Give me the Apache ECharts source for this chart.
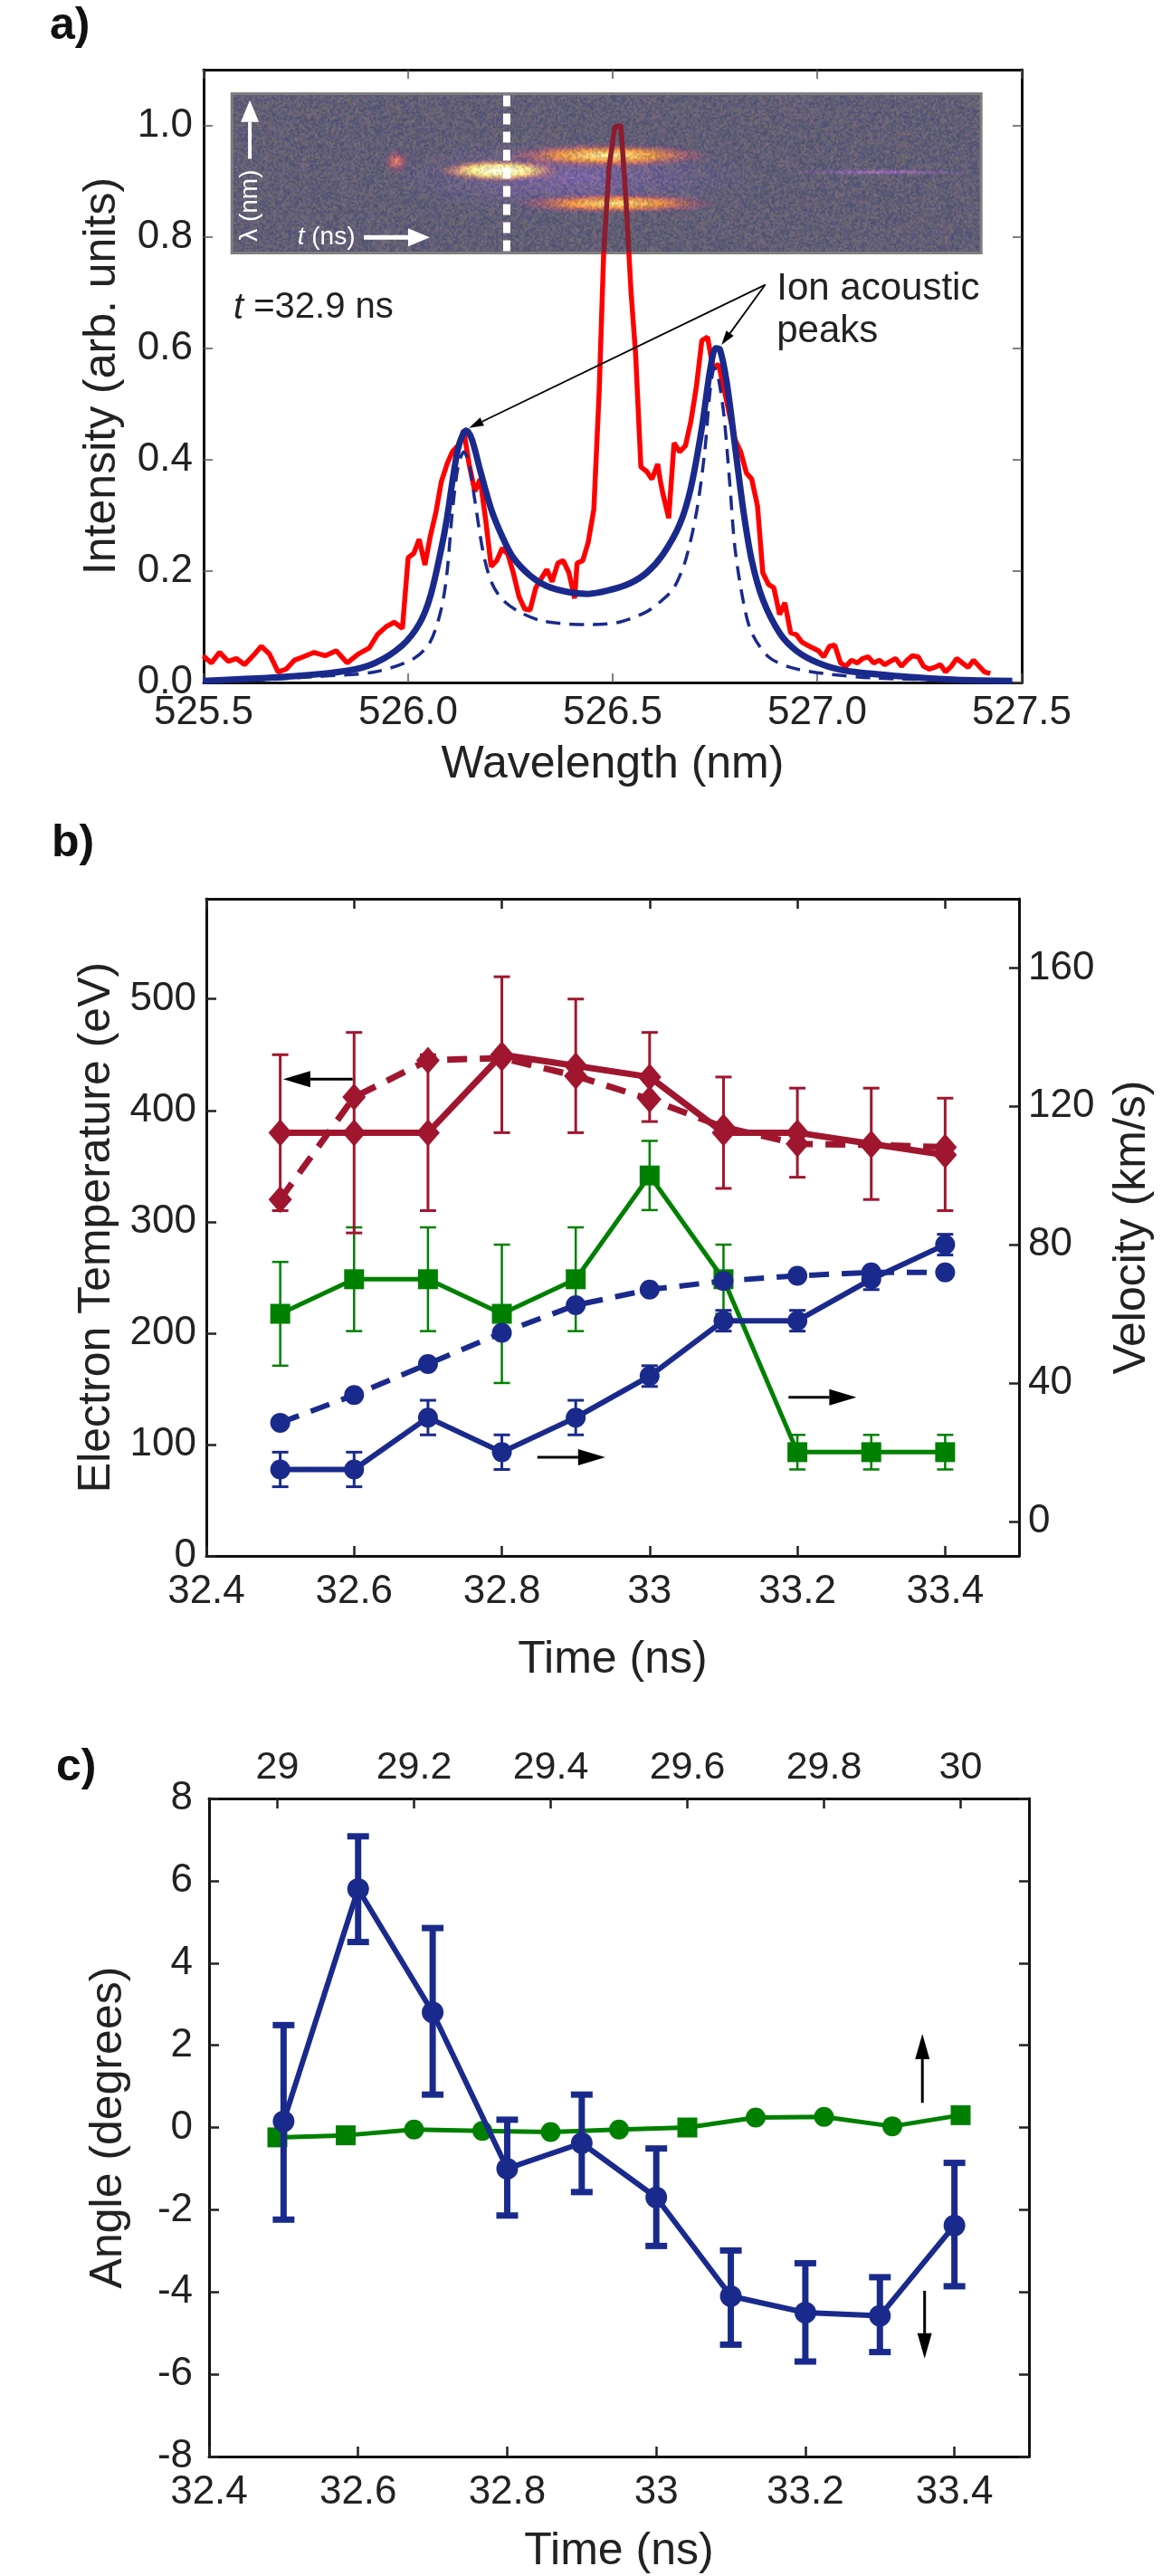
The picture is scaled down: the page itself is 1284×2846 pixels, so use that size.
<!DOCTYPE html>
<html><head><meta charset="utf-8">
<script src="https://cdn.jsdelivr.net/npm/echarts@6/dist/echarts.min.js"></script>
<style>html,body{margin:0;padding:0;background:#fff}#c{width:1284px;height:2846px}</style>
</head><body><div id="c"></div>
<script>
// ================= Panel a data =================
const redWl = [525.499,525.519,525.539,525.560,525.580,525.600,525.621,525.641,525.661,525.682,
525.702,525.722,525.743,525.770,525.797,525.824,525.851,525.878,525.905,525.925,
525.946,525.966,525.986,526.000,526.014,526.027,526.041,526.054,526.068,526.081,
526.095,526.108,526.122,526.136,526.149,526.163,526.176,526.190,526.203,526.217,
526.230,526.244,526.257,526.271,526.285,526.298,526.312,526.325,526.339,526.352,
526.366,526.379,526.393,526.407,526.413,526.427,526.440,526.454,526.467,526.478,
526.491,526.505,526.520,526.533,526.545,526.556,526.569,526.583,526.596,526.610,
526.617,526.623,526.637,526.650,526.664,526.678,526.691,526.705,526.718,526.732,
526.745,526.759,526.772,526.786,526.799,526.813,526.827,526.840,526.854,526.867,
526.881,526.894,526.908,526.921,526.935,526.949,526.962,526.976,526.989,527.003,
527.016,527.030,527.043,527.057,527.070,527.084,527.098,527.111,527.125,527.138,
527.152,527.165,527.179,527.192,527.206,527.220,527.233,527.247,527.260,527.274,
527.287,527.301,527.314,527.328,527.341,527.355,527.369,527.382,527.396,527.409,527.423];
const redI = [0.048,0.035,0.054,0.038,0.043,0.032,0.048,0.065,0.051,0.019,
0.024,0.040,0.046,0.054,0.048,0.057,0.035,0.051,0.062,0.086,
0.100,0.108,0.097,0.224,0.232,0.257,0.211,0.262,0.306,0.360,
0.392,0.414,0.425,0.452,0.392,0.343,0.365,0.289,0.208,0.219,
0.241,0.230,0.197,0.154,0.132,0.130,0.170,0.186,0.203,0.181,
0.214,0.219,0.197,0.151,0.214,0.219,0.251,0.311,0.522,0.770,
0.924,0.997,1.000,0.860,0.700,0.590,0.387,0.379,0.365,0.392,
0.360,0.338,0.295,0.430,0.414,0.425,0.468,0.533,0.614,0.620,
0.565,0.571,0.528,0.479,0.436,0.414,0.376,0.365,0.317,0.197,
0.176,0.170,0.122,0.143,0.089,0.086,0.073,0.067,0.062,0.057,
0.046,0.065,0.067,0.035,0.029,0.040,0.035,0.043,0.046,0.035,
0.040,0.032,0.038,0.043,0.029,0.040,0.048,0.046,0.029,0.024,
0.027,0.032,0.019,0.029,0.043,0.035,0.027,0.040,0.029,0.019,0.016];
const fitWl = [525.499,525.715,525.851,525.919,525.986,526.027,526.054,526.081,526.095,526.108,
526.122,526.136,526.142,526.156,526.176,526.203,526.230,526.257,526.298,526.339,
526.393,526.440,526.488,526.542,526.583,526.623,526.664,526.691,526.718,526.738,
526.752,526.762,526.779,526.799,526.820,526.840,526.867,526.908,526.949,527.003,
527.070,527.206,527.341,527.477];
const fitI = [0.003,0.011,0.021,0.035,0.067,0.105,0.154,0.240,0.295,0.360,
0.420,0.449,0.452,0.436,0.381,0.311,0.262,0.224,0.192,0.173,
0.162,0.159,0.165,0.178,0.197,0.230,0.284,0.349,0.457,0.560,
0.600,0.598,0.538,0.425,0.306,0.219,0.149,0.089,0.057,0.035,
0.021,0.011,0.005,0.003];
const fitDashWl = [525.499,525.648,525.783,525.919,526.014,526.054,526.081,526.095,526.108,526.122,
526.136,526.149,526.163,526.183,526.203,526.230,526.271,526.325,526.393,526.447,
526.515,526.583,526.623,526.650,526.678,526.705,526.725,526.738,526.749,526.759,
526.772,526.786,526.799,526.820,526.840,526.881,526.935,527.016,527.138,527.341,527.477];
const fitDashI = [0.001,0.005,0.011,0.019,0.043,0.073,0.132,0.197,0.306,0.387,
0.414,0.392,0.327,0.235,0.181,0.149,0.127,0.111,0.105,0.104,
0.108,0.127,0.149,0.170,0.219,0.306,0.414,0.522,0.565,0.544,
0.479,0.360,0.241,0.143,0.089,0.046,0.027,0.016,0.008,0.004,0.001];
const wlTicks = [525.5,526.0,526.5,527.0,527.5];
const intensityTicks = [0,0.2,0.4,0.6,0.8,1.0];

// ================= Panel b data =================
const timeB = [32.5,32.6,32.7,32.8,32.9,33.0,33.1,33.2,33.3,33.4];
const tempSolid   = [380,380,380,450,440,430,380,380,370,360];
const tempSolidLo = [310,290,310,380,380,390,330,340,320,310];
const tempSolidHi = [450,470,450,520,500,470,430,420,420,411];
const tempDashed  = [320,412,445,447,431,410,385,370,369,367];
const velGreen   = [60,70,70,60,70,100,70,20,20,20];
const velGreenLo = [45,55,55,40,55,90,60,15,15,15];
const velGreenHi = [75,85,85,80,85,110,80,25,25,25];
const velBlue   = [15,15,30,20,30,42,58,58,70,80];
const velBlueLo = [10,10,25,15,25,39,55,55,67,77];
const velBlueHi = [20,20,35,25,35,45,61,61,72,83];
const velBlueDashed = [28.5,36.5,45.5,54.5,62.5,67,69.5,71,72,72];
const timeTicks = [32.4,32.6,32.8,33.0,33.2,33.4];
const tempTicks = [0,100,200,300,400,500];
const velTicks = [0,40,80,120,160];

// ================= Panel c data =================
const timeC = [32.5,32.6,32.7,32.8,32.9,33.0,33.1,33.2,33.3,33.4];
const angleBlue   = [0.15,5.8,2.8,-1.0,-0.38,-1.7,-4.1,-4.5,-4.58,-2.38];
const angleBlueLo = [-2.24,4.51,0.8,-2.14,-1.57,-2.88,-5.28,-5.69,-5.46,-3.86];
const angleBlueHi = [2.49,7.08,4.85,0.19,0.8,-0.51,-2.99,-3.3,-3.64,-0.86];
const timeTop = [29.0,29.1,29.2,29.3,29.4,29.5,29.6,29.7,29.8,29.9,30.0];
const angleGreen = [-0.24,-0.19,-0.05,-0.08,-0.11,-0.05,0.0,0.24,0.26,0.03,0.30];
const angleGreenMarker = ['rect','rect','circle','circle','circle','circle','rect','circle','circle','circle','rect'];
const angleTicks = [-8,-6,-4,-2,0,2,4,6,8];
const topTicks = [29,29.2,29.4,29.6,29.8,30];

// ================= styling =================
const FONT = 'Liberation Sans, Arial, Helvetica, sans-serif';
const TXT = '#222';
const RED = '#ff0000', NAVY = '#1a2a8c', MAROON = '#a0162f', GREEN = '#008000';

const chart = echarts.init(document.getElementById('c'), null, {renderer:'canvas'});

function axisCommon(o){
  return Object.assign({
    type:'value', splitLine:{show:false},
    axisLine:{show:true, onZero:false, lineStyle:{color:'#111', width:3}},
    axisTick:{show:true, inside:true, length:11, lineStyle:{color:'#222', width:2.5}},
    axisLabel:{show:true, color:TXT, fontSize:44, fontFamily:FONT},
    nameTextStyle:{color:TXT, fontSize:50, fontFamily:FONT},
    nameLocation:'middle'
  }, o);
}
const fmt1 = v => v.toFixed(1);
const fmtT = v => String(Math.round(v*10)/10);
const pairs = (xs, ys) => xs.map((x,k)=>[x, ys[k]]);

function lineSeries(xs, ys, xi, yi, color, lw, symbol, size, dash, z, smooth){
  const ls = {width:lw, type: dash || 'solid'};
  if (color) ls.color = color;
  return {type:'line', xAxisIndex:xi, yAxisIndex:yi, data:pairs(xs,ys),
    symbol: symbol || 'none', symbolSize:size, showSymbol: !!symbol, smooth: smooth||false,
    lineStyle:ls, itemStyle: color ? {color, borderWidth:0} : {borderWidth:0},
    z: z||3, animation:false, silent:true};
}
function errSeries(xs, lo, hi, xi, yi, color, lw, cap, z){
  return {type:'custom', xAxisIndex:xi, yAxisIndex:yi, z: z||2, silent:true, animation:false,
    data: xs.map((x,k)=>[x, lo[k], hi[k]]), encode:{x:0, y:[1,2]},
    renderItem: function(params, api){
      const a = api.coord([api.value(0), api.value(1)]);
      const b = api.coord([api.value(0), api.value(2)]);
      const st = {stroke:color, lineWidth:lw, fill:null};
      return {type:'group', children:[
        {type:'line', shape:{x1:a[0],y1:a[1],x2:b[0],y2:b[1]}, style:st},
        {type:'line', shape:{x1:a[0]-cap/2,y1:a[1],x2:a[0]+cap/2,y2:a[1]}, style:st},
        {type:'line', shape:{x1:b[0]-cap/2,y1:b[1],x2:b[0]+cap/2,y2:b[1]}, style:st}
      ]};
    }};
}
const thinTick = {show:true, inside:true, length:10, lineStyle:{color:'#555', width:1.5}};
const thickTick = v => ({show:true, inside:true, length:11, lineStyle:{color:'#222', width:2.5}, customValues:v});

const option = {
  backgroundColor:'#fff',
  animation:false,
  grid:[
    {left:225, top:77, width:904, height:677},
    {left:228, top:993, width:904, height:726},
    {left:231, top:1987, width:906, height:727}
  ],
  xAxis:[
    axisCommon({gridIndex:0, position:'bottom', min:525.5, max:527.5,
      axisTick:Object.assign({}, thinTick, {customValues:wlTicks}),
      axisLabel:{color:TXT, fontSize:44, fontFamily:FONT, margin:12, formatter:fmt1, customValues:wlTicks},
      name:'Wavelength (nm)', nameGap:66}),
    axisCommon({gridIndex:0, position:'top', min:525.5, max:527.5,
      axisTick:Object.assign({}, thinTick, {customValues:wlTicks}), axisLabel:{show:false}}),
    axisCommon({gridIndex:1, position:'bottom', min:32.4, max:33.5, axisTick:thickTick(timeTicks),
      axisLabel:{color:TXT, fontSize:44, fontFamily:FONT, margin:18, formatter:fmtT, customValues:timeTicks},
      name:'Time (ns)', nameGap:90}),
    axisCommon({gridIndex:1, position:'top', min:32.4, max:33.5, axisTick:thickTick(timeTicks), axisLabel:{show:false}}),
    axisCommon({gridIndex:2, position:'bottom', min:32.4, max:33.5, axisTick:thickTick(timeTicks),
      axisLabel:{color:TXT, fontSize:44, fontFamily:FONT, margin:18, formatter:fmtT, customValues:timeTicks},
      name:'Time (ns)', nameGap:80}),
    axisCommon({gridIndex:2, position:'top', min:28.9, max:30.1, axisTick:thickTick(topTicks),
      axisLabel:{color:TXT, fontSize:43, fontFamily:FONT, margin:12, formatter:fmtT, customValues:topTicks}})
  ],
  yAxis:[
    axisCommon({gridIndex:0, position:'left', min:0, max:1.1,
      axisTick:Object.assign({}, thinTick, {customValues:intensityTicks}),
      axisLabel:{color:TXT, fontSize:44, fontFamily:FONT, margin:12, formatter:fmt1, customValues:intensityTicks},
      name:'Intensity (arb. units)', nameGap:87}),
    axisCommon({gridIndex:0, position:'right', min:0, max:1.1,
      axisTick:Object.assign({}, thinTick, {customValues:intensityTicks}), axisLabel:{show:false}}),
    axisCommon({gridIndex:1, position:'left', min:0, max:590, axisTick:thickTick(tempTicks),
      axisLabel:{color:TXT, fontSize:44, fontFamily:FONT, margin:11, customValues:tempTicks},
      name:'Electron Temperature (eV)', nameGap:96}),
    axisCommon({gridIndex:1, position:'right', min:-10, max:180, axisTick:thickTick(velTicks),
      axisLabel:{color:TXT, fontSize:44, fontFamily:FONT, margin:10, customValues:velTicks},
      name:'Velocity (km/s)', nameGap:100}),
    axisCommon({gridIndex:2, position:'left', min:-8, max:8, axisTick:thickTick(angleTicks),
      axisLabel:{color:TXT, fontSize:44, fontFamily:FONT, margin:18, customValues:angleTicks},
      name:'Angle (degrees)', nameGap:86}),
    axisCommon({gridIndex:2, position:'right', min:-8, max:8, axisTick:thickTick(angleTicks), axisLabel:{show:false}})
  ],
  visualMap:[{type:'piecewise', show:false, seriesIndex:0, dimension:1,
    pieces:[{min:0.771, max:2, color:'#8c1c2e'}, {min:-1, max:0.771, color:RED}]}],
  series:[
    lineSeries(redWl, redI, 0, 0, null, 5.5, null, 0, null, 3),
    lineSeries(fitWl, fitI, 0, 0, NAVY, 7, null, 0, null, 4, 0.3),
    lineSeries(fitDashWl, fitDashI, 0, 0, NAVY, 3.5, null, 0, [16,10], 5, 0.3),
    errSeries(timeB, velGreenLo, velGreenHi, 2, 3, GREEN, 2.5, 18, 2),
    lineSeries(timeB, velGreen, 2, 3, GREEN, 5, 'rect', 22, null, 3),
    errSeries(timeB, velBlueLo, velBlueHi, 2, 3, NAVY, 3, 18, 2),
    lineSeries(timeB, velBlue, 2, 3, NAVY, 6, 'circle', 22, null, 3),
    lineSeries(timeB, velBlueDashed, 2, 3, NAVY, 6, 'circle', 22, [22,14], 3),
    errSeries(timeB, tempSolidLo, tempSolidHi, 2, 2, MAROON, 3, 18, 4),
    lineSeries(timeB, tempDashed, 2, 2, MAROON, 7, 'diamond', [26,30], [22,14], 5),
    lineSeries(timeB, tempSolid, 2, 2, MAROON, 7, 'diamond', [26,30], null, 5),
    lineSeries(timeTop, angleGreen, 5, 4, GREEN, 5, 'circle', 22, null, 3),
    errSeries(timeC, angleBlueLo, angleBlueHi, 4, 4, NAVY, 7, 24, 4),
    lineSeries(timeC, angleBlue, 4, 4, NAVY, 6, 'circle', 24, null, 5)
  ]
};
option.series[11].data = timeTop.map((x,k)=>({value:[x, angleGreen[k]], symbol:angleGreenMarker[k]}));
chart.setOption(option);

// ================= decorations =================
const pa = (x,y) => chart.convertToPixel({xAxisIndex:0, yAxisIndex:0}, [x,y]);
const pb = (x,y) => chart.convertToPixel({xAxisIndex:2, yAxisIndex:2}, [x,y]);
const pc = (x,y) => chart.convertToPixel({xAxisIndex:4, yAxisIndex:4}, [x,y]);

function arrow(p1, p2, o){
  o = Object.assign({w:2, head:14, hw:6, color:'#000', z:20}, o||{});
  const ang = Math.atan2(p2[1]-p1[1], p2[0]-p1[0]);
  const bx = p2[0]-o.head*Math.cos(ang), by = p2[1]-o.head*Math.sin(ang);
  const px = -Math.sin(ang)*o.hw, py = Math.cos(ang)*o.hw;
  return [
    {type:'line', z:o.z, silent:true, shape:{x1:p1[0],y1:p1[1],x2:bx,y2:by}, style:{stroke:o.color, lineWidth:o.w}},
    {type:'polygon', z:o.z, silent:true, shape:{points:[[p2[0],p2[1]],[bx+px,by+py],[bx-px,by-py]]}, style:{fill:o.color}}
  ];
}

const g = [];
try {
// --- inset streak-camera picture (panel a), painted on an offscreen canvas ---
const tl = pa(525.569, 1.057), br = pa(527.400, 0.771);
const W = Math.round(br[0]-tl[0]), H = Math.round(br[1]-tl[1]);
const cv = document.createElement('canvas'); cv.width = W; cv.height = H;
const ctx = cv.getContext('2d');
ctx.fillStyle = '#5e5e72'; ctx.fillRect(0,0,W,H);
const blobs = [
  [526.405, 0.906, 0.46, 0.071, [[0,'rgba(150,110,200,0.55)'],[1,'rgba(110,100,170,0)']]],
  [526.487, 0.946, 0.257, 0.022, [[0,'rgba(255,240,150,1)'],[0.45,'rgba(255,160,60,0.85)'],[1,'rgba(200,60,120,0)']]],
  [526.507, 0.860, 0.25, 0.018, [[0,'rgba(255,235,130,1)'],[0.45,'rgba(255,150,60,0.85)'],[1,'rgba(200,60,120,0)']]],
  [526.223, 0.919, 0.15, 0.02, [[0,'rgba(255,255,235,1)'],[0.5,'rgba(255,230,130,0.95)'],[1,'rgba(240,90,90,0)']]],
  [525.971, 0.935, 0.03, 0.022, [[0,'rgba(255,140,90,0.9)'],[1,'rgba(200,60,120,0)']]],
  [527.157, 0.916, 0.23, 0.006, [[0,'rgba(190,120,200,0.8)'],[1,'rgba(140,100,190,0)']]]
];
blobs.forEach(b=>{
  const c = pa(b[0], b[1]);
  const rx = pa(b[0]+b[2], b[1])[0]-c[0];
  const ry = c[1]-pa(b[0], b[1]+b[3])[1];
  ctx.setTransform(rx/50, 0, 0, ry/50, c[0]-tl[0], c[1]-tl[1]);
  const grd = ctx.createRadialGradient(0,0,0,0,0,50);
  b[4].forEach(s=>grd.addColorStop(s[0], s[1]));
  ctx.fillStyle = grd; ctx.beginPath(); ctx.arc(0,0,50,0,Math.PI*2); ctx.fill();
});
ctx.setTransform(1,0,0,1,0,0);
// deterministic grain
const im = ctx.getImageData(0,0,W,H), d = im.data;
const hash = (x,y) => { const h = Math.sin(x*12.9898 + y*78.233)*43758.5453; return h - Math.floor(h); };
for (let y=0; y<H; y++) for (let x=0; x<W; x++){
  const k = (y*W+x)*4, n = hash(Math.floor(x/2), Math.floor(y/2)), m = hash(x+7, y+3);
  const f = 0.78 + 0.44*n;
  d[k]   = Math.min(255, d[k]*f + (m>0.93?40:0));
  d[k+1] = Math.min(255, d[k+1]*(0.85+0.3*n));
  d[k+2] = Math.min(255, d[k+2]*(0.85+0.35*m));
}
ctx.putImageData(im,0,0);
g.push({type:'image', z:1, silent:true, style:{image:cv, x:tl[0], y:tl[1], width:W, height:H}});
g.push({type:'rect', z:2, silent:true, shape:{x:tl[0], y:tl[1], width:W, height:H},
  style:{fill:null, stroke:'#7e7e7e', lineWidth:3}});
const dl1 = pa(526.241, 1.057), dl2 = pa(526.241, 0.771);
g.push({type:'line', z:2, silent:true, shape:{x1:dl1[0], y1:dl1[1]+2, x2:dl2[0], y2:dl2[1]-2},
  style:{stroke:'#ffffff', lineWidth:8, lineDash:[12,8]}});
g.push(...arrow(pa(525.613, 0.94), pa(525.613, 1.045), {w:4, head:24, hw:10, color:'#fff', z:2}));
g.push(...arrow(pa(525.892, 0.799), pa(526.053, 0.799), {w:5, head:24, hw:10, color:'#fff', z:2}));
{
  const p = pa(525.613, 0.856);
  g.push({type:'text', z:2, silent:true, x:p[0], y:p[1], rotation:Math.PI/2,
    style:{text:'λ (nm)', fill:'#fff', fontSize:28, fontFamily:FONT, align:'center', verticalAlign:'middle'}});
  const q = pa(525.80, 0.799);
  g.push({type:'text', z:2, silent:true, x:q[0], y:q[1],
    style:{text:'{i|t} (ns)', fill:'#fff', fontSize:28, fontFamily:FONT, align:'center', verticalAlign:'middle',
      rich:{i:{fontStyle:'italic', fill:'#fff', fontSize:28, fontFamily:FONT}}}});
}
{
  const s = pa(526.873, 0.714);
  g.push(...arrow(s, pa(526.149, 0.457), {w:1.8, head:16, hw:5}));
  g.push(...arrow(s, pa(526.766, 0.606), {w:1.8, head:16, hw:5}));
  const t1 = pa(526.901, 0.706), t2 = pa(526.901, 0.630);
  g.push({type:'text', z:20, silent:true, x:t1[0], y:t1[1], style:{text:'Ion acoustic', fill:TXT, fontSize:42, fontFamily:FONT, align:'left', verticalAlign:'middle'}});
  g.push({type:'text', z:20, silent:true, x:t2[0], y:t2[1], style:{text:'peaks', fill:TXT, fontSize:42, fontFamily:FONT, align:'left', verticalAlign:'middle'}});
  const t3 = pa(525.573, 0.672);
  g.push({type:'text', z:20, silent:true, x:t3[0], y:t3[1],
    style:{text:'{i|t} =32.9 ns', fill:TXT, fontSize:40, fontFamily:FONT, align:'left', verticalAlign:'middle',
      rich:{i:{fontStyle:'italic', fill:TXT, fontSize:40, fontFamily:FONT}}}});
}
g.push(...arrow(pb(32.598, 428), pb(32.504, 428), {w:3, head:30, hw:9}));
g.push(...arrow(pb(32.848, 88.6), pb(32.94, 88.6), {w:3, head:30, hw:9}));
g.push(...arrow(pb(33.188, 142.5), pb(33.28, 142.5), {w:3, head:30, hw:9}));
g.push(...arrow(pc(33.357, 0.6), pc(33.357, 2.28), {w:3, head:28, hw:8}));
g.push(...arrow(pc(33.36, -3.97), pc(33.36, -5.62), {w:3, head:28, hw:8}));
} catch(e) { console.error(e); }
[['a)', 55, 54], ['b)', 57, 957], ['c)', 62, 1978]].forEach(l=>{
  g.push({type:'text', z:20, silent:true, x:l[1], y:l[2],
    style:{text:l[0], fill:'#111', fontSize:50, fontWeight:'bold', fontFamily:FONT, align:'left', verticalAlign:'bottom'}});
});
chart.setOption({graphic:{elements:g}});
</script>
</body></html>
